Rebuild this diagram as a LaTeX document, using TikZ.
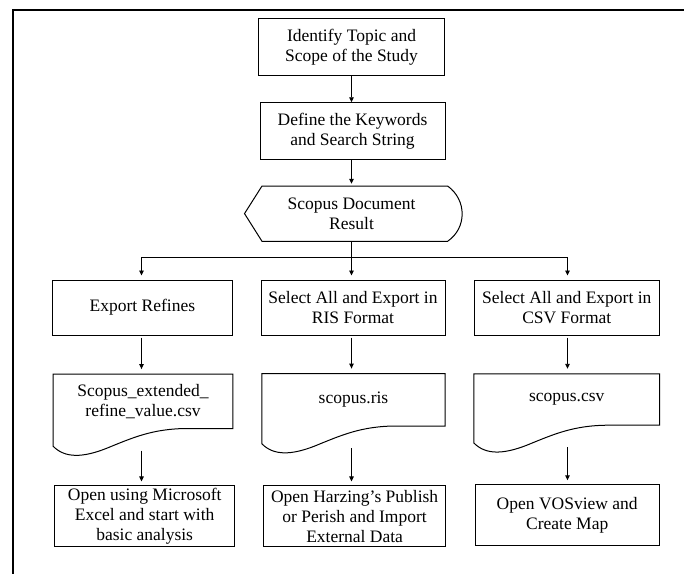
\documentclass[tikz,border=0pt]{standalone}
\usepackage{fontspec}
\setmainfont{Liberation Serif}
\usetikzlibrary{arrows.meta}
\newcommand\docwave[1]{%
  \draw[shp] (#1.south east) -- (#1.north east) -- (#1.north west)
    -- ([yshift=-17.7pt]#1.south west)
    .. controls ([xshift=12pt,yshift=-30pt]#1.south west) and ([xshift=30pt,yshift=-29pt]#1.south west)
    .. ([xshift=53pt,yshift=-20pt]#1.south west)
    .. controls ([xshift=80pt,yshift=-9pt]#1.south west) and ([xshift=100pt]#1.south west)
    .. ([xshift=135pt]#1.south west) -- cycle;}
\begin{document}
\begin{tikzpicture}[x=1pt,y=-1pt,
  shp/.style={draw, line width=1pt},
  box/.style={shp, align=center, inner sep=0pt, font=\fontsize{17.5}{20}\selectfont},
  txt/.style={align=center, inner sep=0pt, font=\fontsize{17.5}{20}\selectfont},
  arr/.style={-{Triangle[length=5pt,width=4.5pt]}, line width=0.9pt},
  ln/.style={line width=0.9pt}]
\useasboundingbox (0,0) rectangle (684,573);
\draw[line width=1.8pt] (12.7,580) -- (12.7,9.7) -- (690,9.7);

\node[box, minimum width=186.5pt, minimum height=57pt] (b1) at (351.5,46.8) {Identify Topic and\\Scope of the Study};
\node[box, minimum width=185pt, minimum height=56.3pt] (b2) at (352.5,130.9) {Define the Keywords\\and Search String};
\node[txt, minimum width=214pt, minimum height=55.3pt] (disp) at (351.5,213.6) {Scopus Document\\Result};
\draw[shp] (262,186) -- (447.6,186) .. controls (467,200) and (467,228) .. (447.6,241.3)
  -- (262,241.3) -- (244.5,213.6) -- cycle;

\coordinate (br) at (351.5,257.3);
\coordinate (bl) at (141.5,257.3);
\coordinate (brr) at (567.5,257.3);

\node[box, minimum width=180pt, minimum height=55pt] (rA) at (142.4,307.5) {Export Refines};
\node[box, minimum width=184pt, minimum height=55pt] (rB) at (353,307.5) {Select All and Export in\\RIS Format};
\node[box, minimum width=185pt, minimum height=55pt] (rC) at (566.8,307.5) {Select All and Export in\\CSV Format};

\node[txt, minimum width=179.4pt, minimum height=54pt] (dA) at (143,401.3) {Scopus\_extended\_\\refine\_value.csv};
\node[txt, minimum width=183pt, minimum height=52pt] (dB) at (353.5,399.8) {scopus.ris};
\node[txt, minimum width=185.4pt, minimum height=51pt] (dC) at (566.7,399.5) {scopus.csv};
\docwave{dA}
\docwave{dB}
\docwave{dC}

\node[box, minimum width=179.5pt, minimum height=60.7pt] (fA) at (144.7,516.3) {Open using Microsoft\\Excel and start with\\basic analysis};
\node[box, minimum width=181.6pt, minimum height=60.7pt] (fB) at (354.6,516.3) {Open Harzing's Publish\\or Perish and Import\\External Data};
\node[box, minimum width=184.4pt, minimum height=61pt] (fC) at (567.2,515.3) {Open VOSview and\\Create Map};

\draw[arr] (b1.south) -- (b1.south |- b2.north);
\draw[arr, shorten >=2pt] (b1.south |- b2.south) -- (b1.south |- disp.north);
\draw[ln] (disp.south) -- (br);
\draw[ln] (bl) -- (brr);
\draw[arr, shorten >=4pt] (bl) -- (bl |- rA.north);
\draw[arr, shorten >=4pt] (br) -- (br |- rB.north);
\draw[arr, shorten >=4pt] (brr) -- (brr |- rC.north);

\draw[arr, shorten <=2pt, shorten >=5pt] (rA.south -| bl) -- (bl |- dA.north);
\draw[arr, shorten <=2pt, shorten >=5pt] (rB.south -| br) -- (br |- dB.north);
\draw[arr, shorten <=2pt, shorten >=5pt] (rC.south -| brr) -- (brr |- dC.north);

\draw[arr, shorten >=4pt] ([yshift=-22pt]dA.south -| bl) -- (bl |- fA.north);
\draw[arr, shorten >=4pt] ([yshift=-22pt]dB.south -| br) -- (br |- fB.north);
\draw[arr, shorten >=4pt] ([yshift=-22pt]dC.south -| brr) -- (brr |- fC.north);
\end{tikzpicture}
\end{document}
